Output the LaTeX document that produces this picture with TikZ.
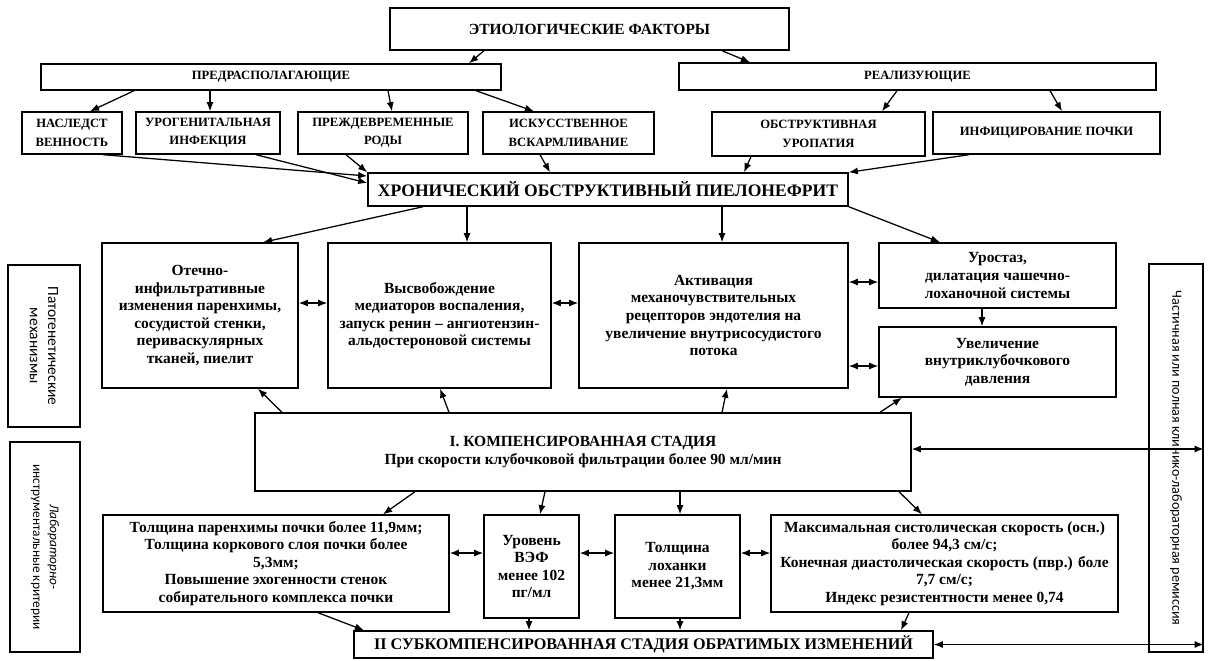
\documentclass[tikz,border=0pt]{standalone}
\usepackage{fontspec}
\setmainfont{Liberation Serif}
\newfontfamily\lblfont{Carlito}
\usetikzlibrary{arrows.meta}

\begin{document}
\begin{tikzpicture}[x=0.025cm, y=-0.025cm,
    box/.style={draw, line width=1pt, inner sep=1pt, align=center, font=\bfseries\fontsize{11}{12.5}\selectfont},
    capbox/.style={box, font=\bfseries\fontsize{9}{13}\selectfont},
    sidebox/.style={draw, line width=1pt, rotate=-90, align=center, font=\lblfont\fontsize{11}{13}\selectfont},
    wh/.style 2 args={minimum width=#1*0.025cm, minimum height=#2*0.025cm},
    arr/.style={-{Latex[length=6.5pt,width=5pt]}, line width=0.9pt},
    darr/.style={{Latex[length=6.5pt,width=5pt]}-{Latex[length=6.5pt,width=5pt]}, line width=0.9pt}]
    \useasboundingbox (0,0) rectangle (1209,660);

    % Этиологические факторы
    \node[box, font=\bfseries\fontsize{11}{13}\selectfont, wh={399}{42}] (etio) at (589.5,29) {ЭТИОЛОГИЧЕСКИЕ ФАКТОРЫ};
    \node[capbox, wh={460}{26}] (pred) at (271,77) {ПРЕДРАСПОЛАГАЮЩИЕ};
    \node[capbox, wh={477}{27}] (real) at (917.5,76.5) {РЕАЛИЗУЮЩИЕ};
    \node[capbox, wh={100}{42}] (nasl) at (72,133) {НАСЛЕДСТ\\ВЕННОСТЬ};
    \node[capbox, wh={144}{42}] (urog) at (208,133) {УРОГЕНИТАЛЬНАЯ\\ИНФЕКЦИЯ};
    \node[capbox, wh={170}{42}] (prezh) at (383,133) {ПРЕЖДЕВРЕМЕННЫЕ\\РОДЫ};
    \node[capbox, wh={171}{42}] (iskus) at (568.5,133) {ИСКУССТВЕННОЕ\\ВСКАРМЛИВАНИЕ};
    \node[capbox, wh={213}{44}] (obstr) at (818.5,134) {ОБСТРУКТИВНАЯ\\УРОПАТИЯ};
    \node[capbox, wh={227}{42}] (infic) at (1046.5,133) {ИНФИЦИРОВАНИЕ ПОЧКИ};
    \draw[arr] (etio.south -| 484,0) -- (pred.north -| 469,0);
    \draw[arr] (etio.south -| 722,0) -- (real.north -| 750,0);
    \draw[arr] (pred.south -| 134,0) -- (nasl.north -| 90,0);
    \draw[arr] (pred.south -| 210,0) -- (urog.north -| 210,0);
    \draw[arr] (pred.south -| 388,0) -- (prezh.north -| 392,0);
    \draw[arr] (pred.south -| 476,0) -- (iskus.north -| 534,0);
    \draw[arr] (real.south -| 897,0) -- (obstr.north -| 882,0);
    \draw[arr] (real.south -| 1050,0) -- (infic.north -| 1062,0);

    % Диагноз
    \node[box, font=\bfseries\fontsize{12.5}{14}\selectfont, wh={480}{33}] (main) at (608,189.5) {ХРОНИЧЕСКИЙ ОБСТРУКТИВНЫЙ ПИЕЛОНЕФРИТ};
    \draw[arr] (nasl.south -| 103,0) -- (main.west |- 0,176);
    \draw[arr] (urog.south -| 256,0) -- (main.west |- 0,183);
    \draw[arr] (prezh.south -| 346,0) -- (main.north west);
    \draw[arr] (iskus.south -| 540,0) -- (main.north -| 550,0);
    \draw[arr] (obstr.south -| 751,0) -- (main.north -| 744,0);
    \draw[arr] (infic.south -| 969,0) -- (main.north east);

    % Патогенетические механизмы
    \node[sidebox, wh={162}{72}] (patog) at (44,346) {Патогенетические\\механизмы};
    \node[box, wh={196}{145}] (otek) at (200,315.5) {Отечно-\\инфильтративные\\изменения паренхимы,\\сосудистой стенки,\\периваскулярных\\тканей, пиелит};
    \node[box, wh={223}{145}] (mediat) at (439.5,315.5) {Высвобождение\\медиаторов воспаления,\\запуск ренин – ангиотензин-\\альдостероновой системы};
    \node[box, wh={269}{145}] (mehan) at (713.5,315.5) {Активация\\механочувствительных\\рецепторов эндотелия на\\увеличение внутрисосудистого\\потока};
    \node[box, wh={237}{65}] (urost) at (997.5,275.5) {Уростаз,\\дилатация чашечно-\\лоханочной системы};
    \node[box, wh={237}{70}] (davl) at (997.5,362) {Увеличение\\внутриклубочкового\\давления};
    \draw[arr] (main.south -| 423,0) -- (otek.north -| 263,0);
    \draw[arr] (main.south -| 467,0) -- (mediat.north -| 467,0);
    \draw[arr] (main.south -| 722,0) -- (mehan.north -| 722,0);
    \draw[arr] (main.south east) -- (urost.north -| 940,0);
    \draw[arr] (urost.south -| 982,0) -- (davl.north -| 982,0);
    \draw[darr] (otek.east |- 0,303) -- (mediat.west |- 0,303);
    \draw[darr] (mediat.east |- 0,303) -- (mehan.west |- 0,303);
    \draw[darr] (mehan.east |- 0,282) -- (urost.west |- 0,282);
    \draw[darr] (mehan.east |- 0,366) -- (davl.west |- 0,366);

    % I стадия
    \node[box, wh={656}{78}] (komp) at (583,452) {I. КОМПЕНСИРОВАННАЯ СТАДИЯ\\При скорости клубочковой фильтрации более 90 мл/мин};
    \draw[arr] (komp.north -| 282,0) -- (otek.south -| 258,0);
    \draw[arr] (komp.north -| 449,0) -- (mediat.south -| 440,0);
    \draw[arr] (komp.north -| 722,0) -- (mehan.south -| 727,0);
    \draw[arr] (komp.north -| 880,0) -- (davl.south -| 902,0);

    % Лабораторно-инструментальные критерии
    \node[sidebox, font=\lblfont\fontsize{9.5}{12}\selectfont, wh={210}{70}] (labor) at (45,547) {\itshape Лабораторно-\\инструментальные критерии};
    \node[box, wh={346}{97}] (tolpar) at (276,563.5) {Толщина паренхимы почки более 11,9мм;\\Толщина коркового слоя почки более\\5,3мм;\\Повышение эхогенности стенок\\собирательного комплекса почки};
    \node[box, wh={95}{103}] (vef) at (531.5,566.5) {Уровень\\ВЭФ\\менее 102\\пг/мл};
    \node[box, wh={125}{103}] (lohan) at (677.5,566.5) {Толщина\\лоханки\\менее 21,3мм};
    \node[box, wh={347}{97}] (skor) at (944.5,563.5) {Максимальная систолическая скорость (осн.)\\более 94,3 см/с;\\Конечная диастолическая скорость (пвр.) боле\\7,7 см/с;\\Индекс резистентности менее 0,74};
    \draw[arr] (komp.south -| 415,0) -- (tolpar.north -| 383,0);
    \draw[arr] (komp.south -| 545,0) -- (vef.north -| 540,0);
    \draw[arr] (komp.south -| 680,0) -- (lohan.north -| 680,0);
    \draw[arr] (komp.south -| 899,0) -- (skor.north -| 922,0);
    \draw[darr] (tolpar.east |- 0,553) -- (vef.west |- 0,553);
    \draw[darr] (vef.east |- 0,553) -- (lohan.west |- 0,553);
    \draw[darr] (lohan.east |- 0,553) -- (skor.west |- 0,553);

    % II стадия
    \node[box, font=\bfseries\fontsize{11.5}{13}\selectfont, wh={579}{27}] (subkomp) at (643.5,644.5) {II СУБКОМПЕНСИРОВАННАЯ СТАДИЯ ОБРАТИМЫХ ИЗМЕНЕНИЙ};
    \draw[arr] (tolpar.south -| 318,0) -- (subkomp.north -| 364,0);
    \draw[arr] (vef.south -| 529,0) -- (subkomp.north -| 529,0);
    \draw[arr] (lohan.south -| 680,0) -- (subkomp.north -| 680,0);
    \draw[arr] (skor.south -| 909,0) -- (subkomp.north -| 901,0);

    % Ремиссия
    \node[sidebox, font=\lblfont\fontsize{10}{12}\selectfont, wh={388}{54}] (remis) at (1176,458) {Частичная или полная клинико-лабораторная ремиссия};
    \draw[darr] (komp.east |- 0,449) -- (remis.north |- 0,449);
    \draw[darr] (subkomp.east |- 0,644.5) -- (remis.north |- 0,644.5);
\end{tikzpicture}
\end{document}
